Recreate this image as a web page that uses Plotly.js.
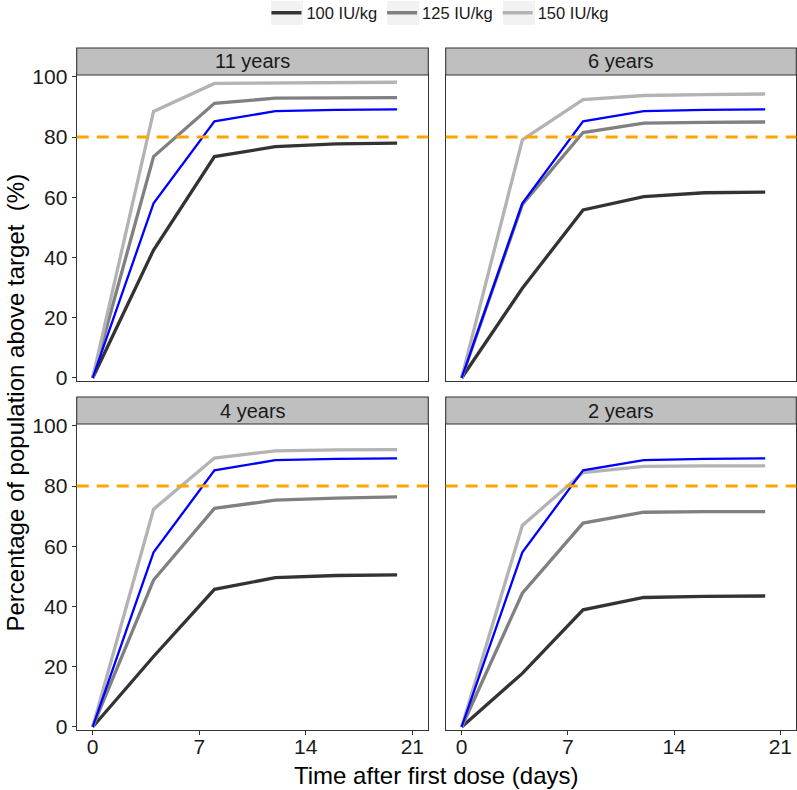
<!DOCTYPE html>
<html>
<head>
<meta charset="utf-8">
<script src="https://cdn.plot.ly/plotly-3.0.1.min.js"></script>
<style>
  html, body { margin: 0; padding: 0; background: #fff; }
  #chart { width: 797px; height: 790px; }
</style>
</head>
<body>
<div id="chart"></div>
<script>
// ── Data ──────────────────────────────────────────────────────────────────────
const days      = [0, 4, 8, 12, 16, 20];
const panels    = ['11 years', '6 years', '4 years', '2 years'];
const doses     = ['100 IU/kg', '125 IU/kg', '150 IU/kg'];
const TARGET    = 80;

// reference curve (blue), same in every panel
const refCurve  = [0, 58.0, 85.2, 88.6, 89.0, 89.2];

const y11_100 = [0, 42.5, 73.5, 76.8, 77.7, 78.0];
const y11_125 = [0, 73.5, 91.2, 92.9, 93.0, 93.1];
const y11_150 = [0, 88.5, 97.8, 98.0, 98.1, 98.2];

const y6_100  = [0, 29.8, 55.8, 60.2, 61.5, 61.7];
const y6_125  = [0, 57.6, 81.5, 84.6, 84.9, 85.0];
const y6_150  = [0, 79.1, 92.4, 93.8, 94.1, 94.3];

const y4_100  = [0, 23.4, 45.7, 49.6, 50.3, 50.5];
const y4_125  = [0, 48.8, 72.6, 75.3, 76.0, 76.4];
const y4_150  = [0, 72.3, 89.3, 91.7, 92.0, 92.1];

const y2_100  = [0, 17.8, 38.9, 43.0, 43.4, 43.5];
const y2_125  = [0, 44.4, 67.7, 71.3, 71.5, 71.5];
const y2_150  = [0, 66.9, 84.5, 86.5, 86.7, 86.7];

const xTicks  = [0, 7, 14, 21];
const yTicks  = [0, 20, 40, 60, 80, 100];

// ── Styling ─────────────────────────────────────────────────────────────────
const W = 797, H = 790;
const FONT = 'Arial, "Liberation Sans", sans-serif';
const DOSE_COLORS = ['#333333', '#808080', '#B3B3B3'];
const REF_COLOR   = '#0000FF';
const EDGE        = '#333333';

// panel boxes in pixels: [left, right], [top, bottom]
const COLS  = [[76.7, 428.3], [445.7, 796.3]];
const ROWS  = [[75, 381], [424, 730]];
const STRIP = 27;
const LEGEND_Y = 13;       // legend row centre, px from top
const KEY_X = [271, 387, 503];  // left edge of each legend key box

const seriesByPanel = [
  [y11_100, y11_125, y11_150],
  [y6_100,  y6_125,  y6_150],
  [y4_100,  y4_125,  y4_150],
  [y2_100,  y2_125,  y2_150],
];

const px = v => v / W;
const py = v => 1 - v / H;

const traces = [];
const shapes = [];
const annotations = [];
const layout = {
  width: W, height: H,
  paper_bgcolor: '#fff',
  plot_bgcolor:  '#fff',
  margin: { t: 0, r: 0, b: 0, l: 0, pad: 0, autoexpand: false },
  font: { family: FONT, color: '#1a1a1a' },
  showlegend: true,
  legend: {
    orientation: 'h',
    x: 0.552, xanchor: 'center',
    y: py(LEGEND_Y), yanchor: 'middle',
    font: { size: 16.5, color: '#1a1a1a' },
    bgcolor: 'rgba(0,0,0,0)',
    traceorder: 'normal',
  },
};

// light key backgrounds behind the legend symbols
KEY_X.forEach(x0 => {
  shapes.push({
    type: 'rect', xref: 'paper', yref: 'paper',
    x0: px(x0), x1: px(x0 + 32),
    y0: py(LEGEND_Y + 12), y1: py(LEGEND_Y - 12),
    fillcolor: '#F2F2F2', line: { width: 0 }, layer: 'below',
  });
});

panels.forEach((name, i) => {
  const col = i % 2, row = Math.floor(i / 2);
  const sfx = i === 0 ? '' : String(i + 1);
  const xa = 'x' + sfx, ya = 'y' + sfx;
  const bottomRow = row === 1, leftCol = col === 0;

  seriesByPanel[i].forEach((vals, d) => {
    traces.push({
      x: days, y: vals, xaxis: xa, yaxis: ya,
      type: 'scatter', mode: 'lines',
      name: doses[d], legendgroup: doses[d], showlegend: i === 0,
      line: { color: DOSE_COLORS[d], width: 3.3 },
      hoverinfo: 'skip',
    });
  });
  traces.push({
    x: days, y: refCurve, xaxis: xa, yaxis: ya,
    type: 'scatter', mode: 'lines', showlegend: false,
    line: { color: REF_COLOR, width: 2.3 },
    hoverinfo: 'skip',
  });

  layout['xaxis' + sfx] = {
    domain: [px(COLS[col][0]), px(COLS[col][1])],
    anchor: ya,
    range: [-1.05, 22.05],
    tickvals: xTicks,
    ticks: bottomRow ? 'outside' : '',
    ticklen: 4, tickwidth: 1, tickcolor: EDGE,
    showticklabels: bottomRow,
    ticklabelstandoff: -6,
    tickfont: { size: 21, color: '#1a1a1a', family: FONT },
    showgrid: false, zeroline: false,
    showline: true, mirror: true, linecolor: EDGE, linewidth: 1.1,
    fixedrange: true,
  };
  layout['yaxis' + sfx] = {
    domain: [py(ROWS[row][1]), py(ROWS[row][0])],
    anchor: xa,
    range: [-1, 100.6],
    tickvals: yTicks,
    ticks: leftCol ? 'outside' : '',
    ticklen: 4, tickwidth: 1, tickcolor: EDGE,
    showticklabels: leftCol,
    tickfont: { size: 21, color: '#1a1a1a', family: FONT },
    showgrid: false, zeroline: false,
    showline: true, mirror: true, linecolor: EDGE, linewidth: 1.1,
    fixedrange: true,
  };

  // target line
  shapes.push({
    type: 'line', xref: xa + ' domain', yref: ya,
    x0: 0, x1: 1, y0: TARGET, y1: TARGET,
    line: { color: '#FFA500', width: 3, dash: '12px,8px' },
    layer: 'above',
  });

  // facet strip
  shapes.push({
    type: 'rect', xref: 'paper', yref: 'paper',
    x0: px(COLS[col][0]), x1: px(COLS[col][1]),
    y0: py(ROWS[row][0]), y1: py(ROWS[row][0] - STRIP),
    fillcolor: '#BFBFBF',
    line: { color: EDGE, width: 1.1 },
    layer: 'above',
  });
  annotations.push({
    xref: 'paper', yref: 'paper',
    x: px((COLS[col][0] + COLS[col][1]) / 2),
    y: py(ROWS[row][0] - STRIP / 2),
    xanchor: 'center', yanchor: 'middle',
    text: name, showarrow: false,
    font: { size: 20, color: '#1a1a1a', family: FONT },
  });
});

// shared axis titles
annotations.push({
  xref: 'paper', yref: 'paper',
  x: px((COLS[0][0] + COLS[1][1]) / 2), y: py(775),
  xanchor: 'center', yanchor: 'middle',
  text: 'Time after first dose (days)', showarrow: false,
  font: { size: 24, color: '#000', family: FONT },
});
annotations.push({
  xref: 'paper', yref: 'paper',
  x: px(15), y: py((ROWS[0][0] + ROWS[1][1]) / 2),
  xanchor: 'center', yanchor: 'middle', textangle: -90,
  text: 'Percentage of population above target\u00A0\u00A0(%)', showarrow: false,
  font: { size: 24, color: '#000', family: FONT },
});

layout.shapes = shapes;
layout.annotations = annotations;

Plotly.newPlot('chart', traces, layout, { displayModeBar: false, staticPlot: true });
</script>
</body>
</html>
